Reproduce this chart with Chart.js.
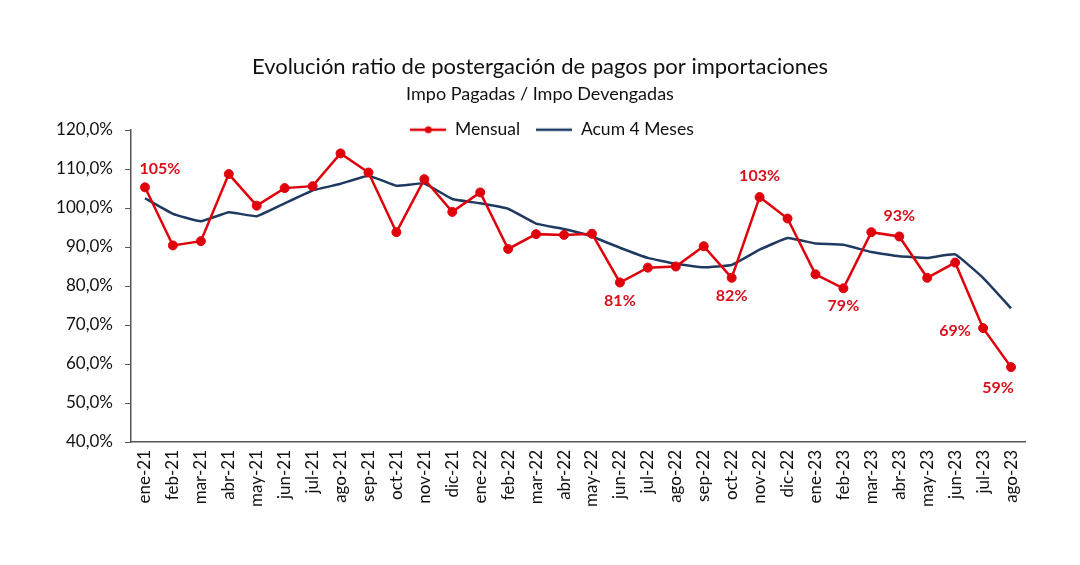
<!DOCTYPE html>
<html>
<head>
<meta charset="utf-8">
<script src="https://cdn.jsdelivr.net/npm/chart.js@4/dist/chart.umd.min.js"></script>
<style>
  html, body { margin: 0; padding: 0; background: #fff; }
  #wrap { width: 1080px; height: 565px; }
</style>
</head>
<body>
<div id="wrap"><canvas id="ratio-chart" width="1080" height="565"></canvas></div>
<script>
const months = ['ene-21', 'feb-21', 'mar-21', 'abr-21', 'may-21', 'jun-21', 'jul-21', 'ago-21', 'sep-21', 'oct-21', 'nov-21', 'dic-21',
  'ene-22', 'feb-22', 'mar-22', 'abr-22', 'may-22', 'jun-22', 'jul-22', 'ago-22', 'sep-22', 'oct-22', 'nov-22', 'dic-22',
  'ene-23', 'feb-23', 'mar-23', 'abr-23', 'may-23', 'jun-23', 'jul-23', 'ago-23'];

const mensual = [105.3, 90.4, 91.5, 108.7, 100.6, 105.1, 105.6, 114.0, 109.1, 93.8, 107.4, 99.0,
  104.0, 89.5, 93.3, 93.1, 93.4, 80.9, 84.7, 85.0, 90.2, 82.1, 102.8, 97.3,
  83.0, 79.4, 93.8, 92.7, 82.1, 86.0, 69.2, 59.2];

const acum4 = [102.5, 98.5, 96.6, 98.9, 97.9, 101.2, 104.5, 106.2, 108.3, 105.7, 106.3, 102.3,
  101.2, 99.8, 96.0, 94.6, 92.7, 89.8, 87.2, 85.7, 84.8, 85.4, 89.3, 92.3,
  90.9, 90.6, 88.7, 87.6, 87.2, 88.1, 82.1, 74.3];

// which monthly points get a % label, and where it sits
const labeled = [
  { i: 0, pos: 'aboveRight' },
  { i: 17, pos: 'below' },
  { i: 21, pos: 'below' },
  { i: 22, pos: 'above' },
  { i: 25, pos: 'below' },
  { i: 27, pos: 'above' },
  { i: 30, pos: 'left' },
  { i: 31, pos: 'belowLeft' }
];

const RED = '#e0000b';
const NAVY = '#1f3a60';
const FONT = 'Lato, "Open Sans", sans-serif';

function legendIcon(withDot, color) {
  const c = document.createElement('canvas');
  c.width = 36; c.height = 10;
  const g = c.getContext('2d');
  g.strokeStyle = color;
  g.lineWidth = 2.5;
  g.beginPath(); g.moveTo(0, 5); g.lineTo(36, 5); g.stroke();
  if (withDot) {
    g.fillStyle = color;
    g.beginPath(); g.arc(18, 5, 3.5, 0, Math.PI * 2); g.fill();
  }
  return c;
}

// legend sits on the top edge of the plot: squash its box for layout,
// then give the height back so the legend isn't clipped when drawn
const flatLegend = {
  id: 'flatLegend',
  beforeLayout(chart) {
    const lg = chart.legend;
    if (!lg || lg._flat) return;
    const fit = lg.fit;
    lg.fit = function () { fit.call(this); this.height = 25; };
    lg._flat = true;
  },
  afterLayout(chart) {
    const lg = chart.legend;
    if (!lg) return;
    lg.bottom = lg.top + 50;
    lg.height = 50;
    lg.left += 12;
    lg.right += 12;
  }
};

const pctLabels = {
  id: 'pctLabels',
  afterDatasetsDraw(chart) {
    const ctx = chart.ctx;
    const meta = chart.getDatasetMeta(0);
    ctx.save();
    ctx.fillStyle = '#d7101b';
    ctx.font = 'bold 16px ' + FONT;
    ctx.textAlign = 'center';
    ctx.textBaseline = 'middle';
    labeled.forEach(l => {
      const p = meta.data[l.i];
      const txt = Math.round(mensual[l.i]) + '%';
      let x = p.x, y = p.y;
      if (l.pos === 'above') y -= 21;
      else if (l.pos === 'below') y += 18;
      else if (l.pos === 'aboveRight') { x += 15; y -= 18; }
      else if (l.pos === 'left') { x -= 28; y += 3; }
      else if (l.pos === 'belowLeft') { x -= 13; y += 21; }
      ctx.fillText(txt, x, y);
    });
    ctx.restore();
  }
};

const ctx = document.getElementById('ratio-chart').getContext('2d');
new Chart(ctx, {
  type: 'line',
  data: {
    labels: months,
    datasets: [{
      label: 'Mensual',
      data: mensual,
      borderColor: RED,
      backgroundColor: RED,
      borderWidth: 2.5,
      pointRadius: 4.5,
      pointBorderWidth: 1,
      pointBackgroundColor: RED,
      pointBorderColor: RED,
      tension: 0
    }, {
      label: 'Acum 4 Meses',
      data: acum4,
      borderColor: NAVY,
      backgroundColor: NAVY,
      borderWidth: 2.5,
      pointRadius: 0,
      tension: 0.1
    }]
  },
  options: {
    responsive: false,
    animation: false,
    layout: { padding: { top: 54, left: 55, right: 55, bottom: 0 } },
    plugins: {
      title: {
        display: true,
        text: 'Evolución ratio de postergación de pagos por importaciones',
        color: '#111',
        font: { family: FONT, size: 22, weight: 'normal' },
        padding: { top: 0, bottom: 3 }
      },
      subtitle: {
        display: true,
        text: 'Impo Pagadas / Impo Devengadas',
        color: '#111',
        font: { family: FONT, size: 18, weight: 'normal' },
        padding: { top: 0, bottom: 0 }
      },
      legend: {
        display: true,
        position: 'top',
        labels: {
          color: '#111',
          font: { family: FONT, size: 17.5 },
          usePointStyle: true,
          pointStyleWidth: 36,
          padding: 16,
          generateLabels(chart) {
            return chart.data.datasets.map((ds, i) => ({
              text: ds.label,
              datasetIndex: i,
              pointStyle: legendIcon(i === 0, ds.borderColor),
              fontColor: '#111',
              lineWidth: 0,
              hidden: false
            }));
          }
        }
      },
      tooltip: { enabled: false }
    },
    scales: {
      x: {
        offset: true,
        grid: { drawOnChartArea: false, drawTicks: false },
        border: { color: '#555', width: 1.5 },
        ticks: {
          color: '#111',
          font: { family: FONT, size: 17 },
          maxRotation: 90,
          minRotation: 90,
          autoSkip: false,
          padding: 8
        },
        afterFit(scale) { scale.height = 123; }
      },
      y: {
        min: 40,
        max: 120,
        grid: { drawOnChartArea: false, drawTicks: true, tickLength: 6, color: '#555' },
        border: { color: '#555', width: 1.5 },
        ticks: {
          stepSize: 10,
          color: '#111',
          font: { family: FONT, size: 17 },
          padding: 12,
          callback: v => v.toFixed(1).replace('.', ',') + '%'
        },
        afterFit(scale) { scale.width = 76; }
      }
    }
  },
  plugins: [flatLegend, pctLabels]
});
</script>
</body>
</html>
